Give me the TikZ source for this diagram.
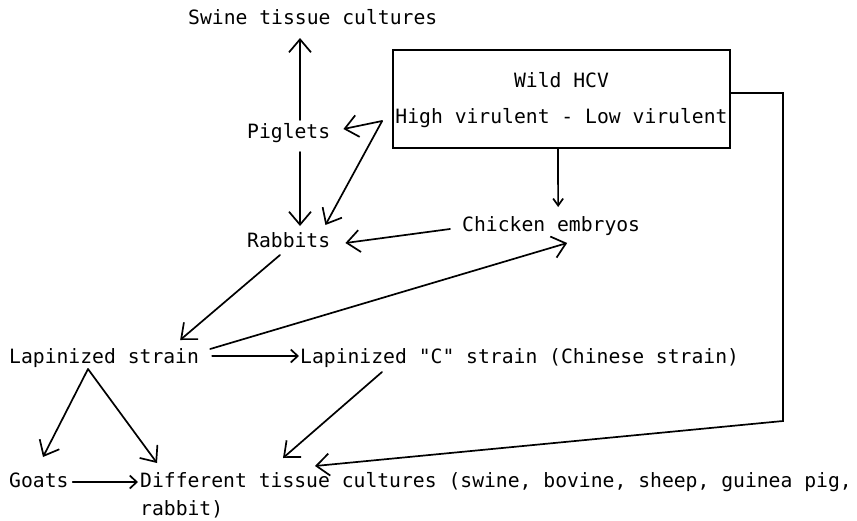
\documentclass[tikz,border=0pt]{standalone}
\usepackage{fontspec}
\newfontfamily\plotfont{DejaVu Sans Mono}
\usetikzlibrary{arrows.meta,calc}

\begin{document}
\begin{tikzpicture}[x=1pt,y=-1pt,
  lbl/.style={anchor=base west, inner sep=0pt, font=\plotfont\fontsize{19.7pt}{24pt}\selectfont},
  link/.style={line width=1.7pt, line cap=round, -{Straight Barb[length=13pt,width=22pt]}},
  shortlink/.style={line width=1.7pt, line cap=round, -{Straight Barb[length=7pt,width=13pt]}},
  smalllink/.style={line width=1.7pt, -{Straight Barb[length=7pt,width=10pt]}},
  hcv/.style={draw, line width=1.8pt, inner sep=0pt, minimum width=337pt, minimum height=98pt}]

\useasboundingbox (0,0) rectangle (857,520);

% source strain box
\node[hcv] (box) at (561.5,99) {};
\node[lbl, anchor=base] (wild) at (561.5,87) {Wild HCV};
\node[lbl, anchor=base] (virulence) at (561.5,123) {High virulent - Low virulent};

% host and culture labels
\node[lbl] (swine)   at (188,24)  {Swine tissue cultures};
\node[lbl] (piglets) at (247,138) {Piglets};
\node[lbl] (rabbits) at (247,247) {Rabbits};
\node[lbl] (chicken) at (462,231) {Chicken embryos};
\node[lbl] (lapin)   at (9,363)   {Lapinized strain};
\node[lbl] (lapinc)  at (300,363) {Lapinized "C" strain (Chinese strain)};
\node[lbl] (goats)   at (9,487)   {Goats};
\node[lbl] (tissue)  at (140,487) {Different tissue cultures (swine, bovine, sheep, guinea pig,};
\node[lbl] (tissuerest) at (140,515) {rabbit)};

% helper points for the fork and the long return line
\coordinate (fork) at ($(box.west)+(-10,22)$);
\coordinate (apex) at ($(lapin.base west)+(79,6)$);
\coordinate (bend) at (783,421);

% piglets
\draw[link] ($(piglets.base west)+(53,-18)$) -- ($(swine.base west)+(112,14)$);
\draw[link] ($(piglets.base west)+(53,14)$) -- ($(rabbits.base west)+(53,-21)$);

% wild virus to piglets and rabbits
\draw[link] (fork) -- ($(piglets.base east)+(13,-9)$);
\draw[link] (fork) -- ($(rabbits.base east)+(-5,-22)$);

% wild virus to chicken embryos
\draw[smalllink] ($(box.south)+(-3.5,0)$) -- ($(chicken.base)+(7,-24)$);

% chicken embryos to rabbits
\draw[link] ($(chicken.base west)+(-12,-2)$) -- ($(rabbits.base east)+(15,-4)$);

% rabbits to lapinized strain
\draw[link] ($(rabbits.base west)+(33,8)$) -- ($(lapin.base east)+(-19,-23)$);

% lapinized strain to chicken embryos
\draw[link] ($(lapin.base east)+(11,-14)$) -- ($(chicken.base)+(16,12)$);

% lapinized strain to "C" strain
\draw[shortlink] ($(lapin.base east)+(13,-7)$) -- ($(lapinc.base west)+(-1,-7)$);

% lapinized strain to goats and tissue cultures
\draw[link] (apex) -- ($(goats.base west)+(34,-30)$);
\draw[link] (apex) -- ($(tissue.base west)+(17,-24)$);

% goats to tissue cultures
\draw[shortlink] ($(goats.base east)+(4,-5)$) -- ($(tissue.base west)+(-2,-5)$);

% "C" strain to tissue cultures
\draw[link] ($(lapinc.base west)+(82,9)$) -- ($(tissue.base west)+(143,-29)$);

% wild virus straight to tissue cultures
\draw[link] ($(box.east)+(0,-6)$) -| (bend) -- ($(tissue.base west)+(175,-21)$);

\end{tikzpicture}
\end{document}
